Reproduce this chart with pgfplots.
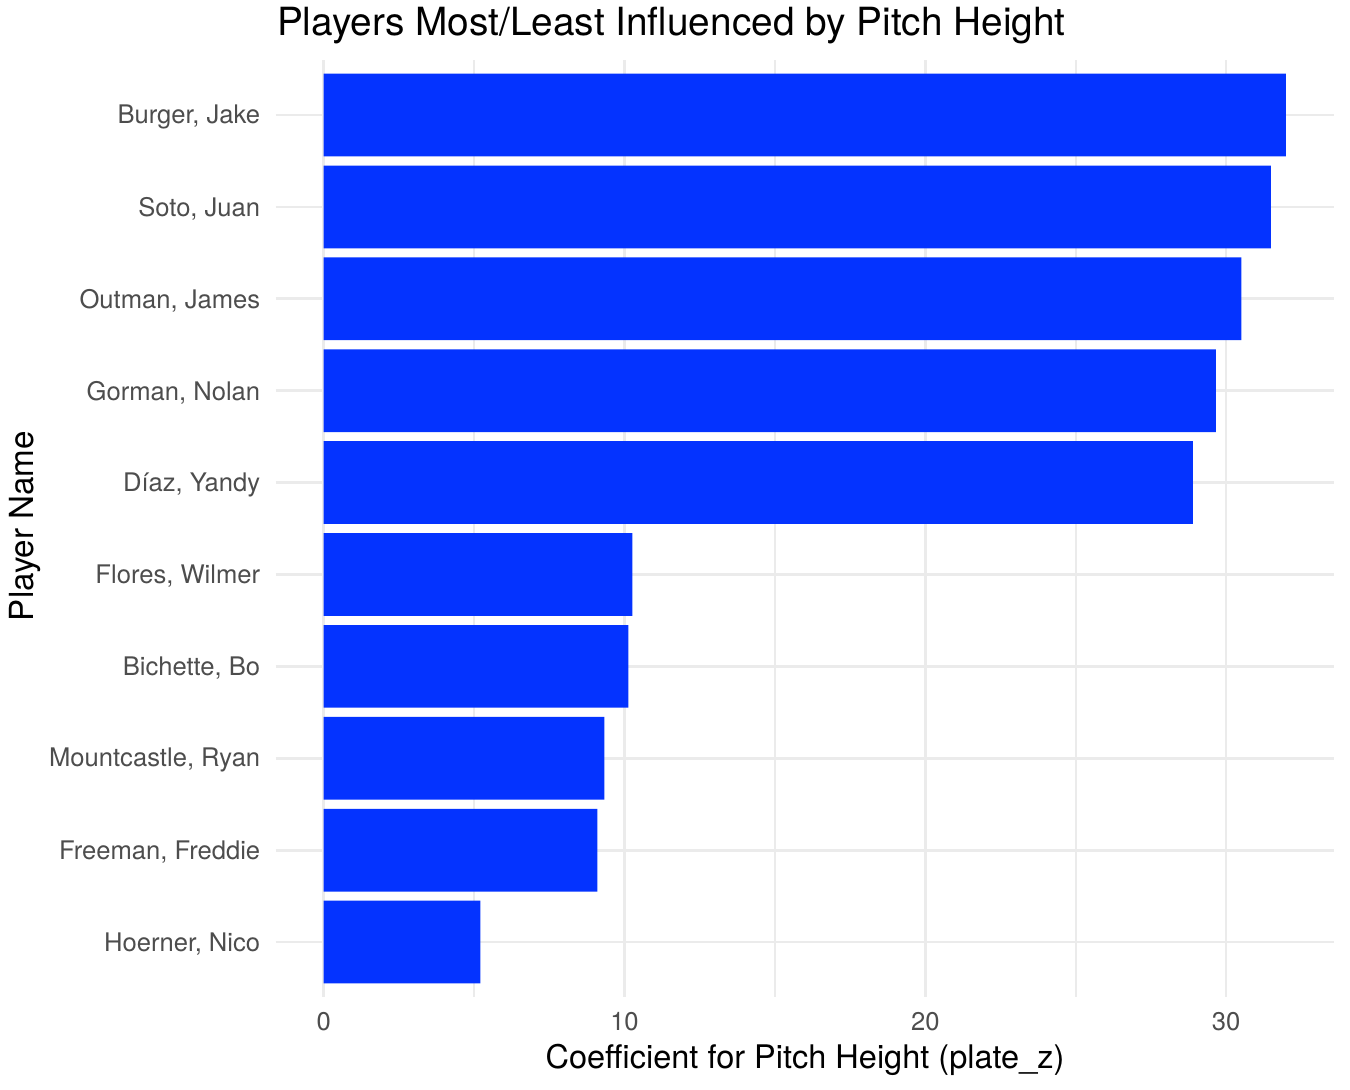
\documentclass[border=0pt]{standalone}
\usepackage{fontspec}
\setmainfont{TeX Gyre Heros}
\usepackage{pgfplots}
\pgfplotsset{compat=1.18}
\definecolor{barblue}{HTML}{0433FF}
\definecolor{gridc}{HTML}{EBEBEB}
\definecolor{tickc}{HTML}{4D4D4D}
\begin{document}
\begin{tikzpicture}
\useasboundingbox (0,0) rectangle (675bp,545bp);
\begin{axis}[
  at={(137.8bp,46.4bp)}, anchor=south west,
  scale only axis, width=529.2bp, height=468.65bp,
  xmin=-1.6, xmax=33.59, ymin=0.4, ymax=10.6,
  xbar, bar width=0.9,
  axis line style={draw=none},
  tick style={draw=none}, major tick length=0pt, minor tick length=0pt,
  xtick={0,10,20,30}, minor xtick={5,15,25},
  ytick={1,2,3,4,5,6,7,8,9,10},
  yticklabels={{Hoerner, Nico},{Freeman, Freddie},{Mountcastle, Ryan},{Bichette, Bo},{Flores, Wilmer},{Díaz, Yandy},{Gorman, Nolan},{Outman, James},{Soto, Juan},{Burger, Jake}},
  xmajorgrids, ymajorgrids, xminorgrids,
  major grid style={color=gridc, line width=1.4bp},
  minor grid style={color=gridc, line width=1bp},
  ticklabel style={font=\fontsize{12.8bp}{15bp}\selectfont, text=tickc},
  yticklabel style={anchor=east, inner sep=0pt, xshift=-7.5bp, yshift=-1bp},
  xticklabel style={anchor=north, inner sep=0pt, yshift=-7.5bp},
  /pgf/number format/assume math mode=true,
]
\addplot[fill=barblue, draw=none] coordinates {
  (5.21,1) (9.10,2) (9.33,3) (10.13,4) (10.26,5)
  (28.90,6) (29.66,7) (30.51,8) (31.49,9) (31.99,10)
};
\end{axis}
\node[anchor=base west, inner sep=0pt, font=\fontsize{19.4bp}{23bp}\selectfont] at (138.3bp,527bp) {Players Most/Least Influenced by Pitch Height};
\node[anchor=base, inner sep=0pt, font=\fontsize{16.25bp}{19bp}\selectfont] at (402.5bp,11bp) {Coefficient for Pitch Height (plate\_z)};
\node[anchor=base, inner sep=0pt, rotate=90, font=\fontsize{16.6bp}{19bp}\selectfont] at (16.5bp,282bp) {Player Name};
\end{tikzpicture}
\end{document}
